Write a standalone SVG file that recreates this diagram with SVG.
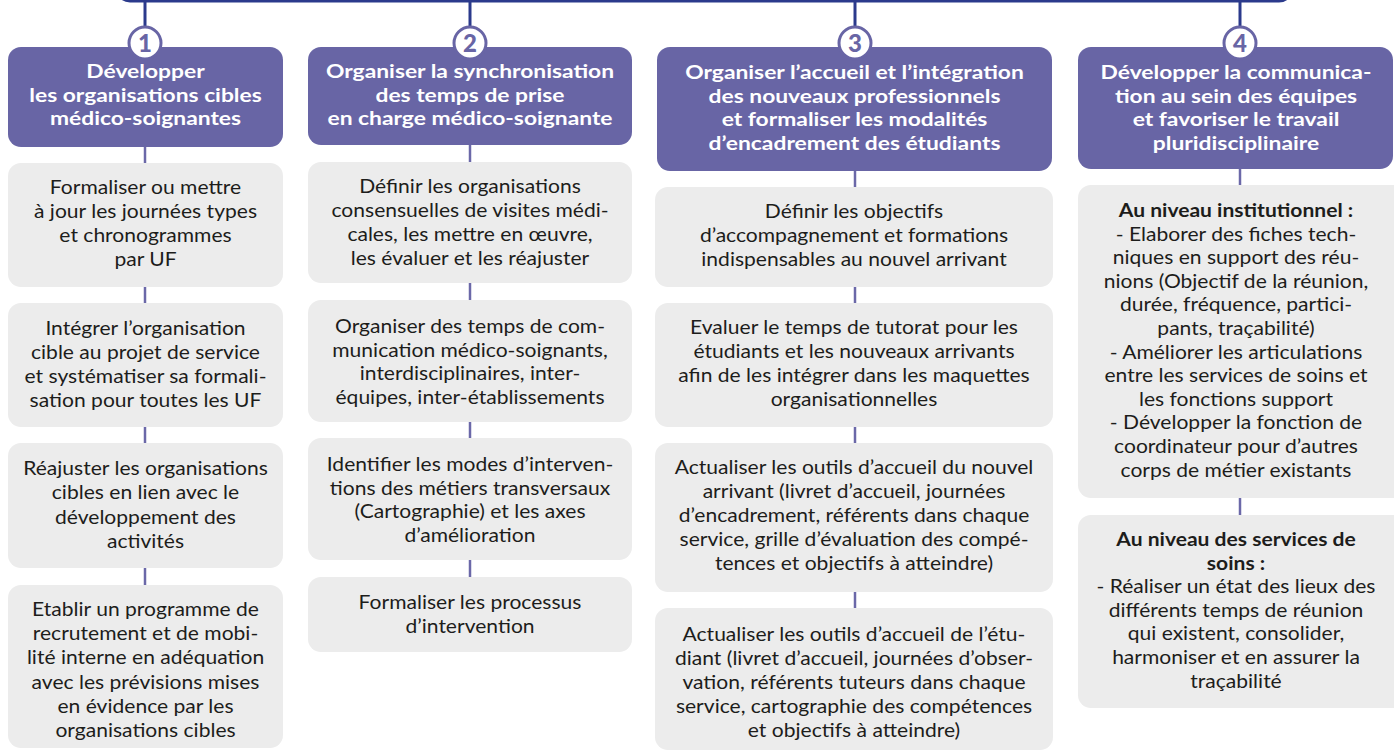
<svg xmlns="http://www.w3.org/2000/svg" width="1394" height="751" viewBox="0 0 1394 751">
<style>
.hdr{fill:#6865a5}
.box{fill:#ececec}
.ht{font-family:Lato,"Open Sans",sans-serif;font-weight:700;font-size:19.5px;fill:#ffffff;text-anchor:middle}
.bt{font-family:Lato,"Open Sans",sans-serif;font-size:19.5px;fill:#1d1d1b;text-anchor:middle}
.bb{font-weight:700}
.num{font-family:Lato,"Open Sans",sans-serif;font-weight:900;font-size:24px;fill:#6865a5;text-anchor:middle}
.circ{fill:#ffffff;stroke:#6865a5;stroke-width:3}
.trunk{stroke:#2b3a8c;stroke-width:3;fill:none}
.link{stroke:#6b68a8;stroke-width:2.5;fill:none}
</style>
<rect width="1394" height="751" fill="#ffffff"/>
<g id="connectors">
<path class="trunk" d="M117,-20 V-12 A13,13 0 0 0 130,1 H1279 A13,13 0 0 0 1292,-12 V-20"/>
<line class="trunk" x1="145" y1="1" x2="145" y2="28"/>
<line class="trunk" x1="470" y1="1" x2="470" y2="28"/>
<line class="trunk" x1="855" y1="1" x2="855" y2="28"/>
<line class="trunk" x1="1240" y1="1" x2="1240" y2="28"/>
<line class="link" x1="145" y1="147" x2="145" y2="163"/>
<line class="link" x1="145" y1="287" x2="145" y2="303"/>
<line class="link" x1="145" y1="427" x2="145" y2="443"/>
<line class="link" x1="145" y1="568" x2="145" y2="585"/>
<line class="link" x1="470" y1="145" x2="470" y2="162"/>
<line class="link" x1="470" y1="283" x2="470" y2="300"/>
<line class="link" x1="470" y1="422" x2="470" y2="438"/>
<line class="link" x1="470" y1="560" x2="470" y2="577"/>
<line class="link" x1="855" y1="171" x2="855" y2="187"/>
<line class="link" x1="855" y1="287" x2="855" y2="303"/>
<line class="link" x1="855" y1="427" x2="855" y2="443"/>
<line class="link" x1="855" y1="592" x2="855" y2="608"/>
<line class="link" x1="1240" y1="169" x2="1240" y2="185"/>
<line class="link" x1="1240" y1="498" x2="1240" y2="515"/>
</g>
<g id="h1">
<rect class="hdr" x="8" y="47" width="275" height="100" rx="13"/>
<g transform="translate(145.5 0) scale(1.17 1)"><text class="ht" y="78"><tspan x="0">Développer</tspan><tspan x="0" dy="23.6">les organisations cibles</tspan><tspan x="0" dy="23.6">médico-soignantes</tspan></text></g>
<circle class="circ" cx="145" cy="43" r="16"/>
<text class="num" x="145" y="51.5">1</text>
</g>
<g id="h2">
<rect class="hdr" x="308" y="47" width="324" height="98" rx="13"/>
<g transform="translate(470 0) scale(1.17 1)"><text class="ht" y="78"><tspan x="0">Organiser la synchronisation</tspan><tspan x="0" dy="23.6">des temps de prise</tspan><tspan x="0" dy="23.6">en charge médico-soignante</tspan></text></g>
<circle class="circ" cx="470" cy="43" r="16"/>
<text class="num" x="470" y="51.5">2</text>
</g>
<g id="h3">
<rect class="hdr" x="657" y="47" width="395" height="124" rx="13"/>
<g transform="translate(854.5 0) scale(1.17 1)"><text class="ht" y="79"><tspan x="0">Organiser l’accueil et l’intégration</tspan><tspan x="0" dy="23.6">des nouveaux professionnels</tspan><tspan x="0" dy="23.6">et formaliser les modalités</tspan><tspan x="0" dy="23.6">d’encadrement des étudiants</tspan></text></g>
<circle class="circ" cx="855" cy="43" r="16"/>
<text class="num" x="855" y="51.5">3</text>
</g>
<g id="h4">
<rect class="hdr" x="1078" y="47" width="315" height="122" rx="13"/>
<g transform="translate(1236 0) scale(1.17 1)"><text class="ht" y="79"><tspan x="0">Développer la communica-</tspan><tspan x="0" dy="23.6">tion au sein des équipes</tspan><tspan x="0" dy="23.6">et favoriser le travail</tspan><tspan x="0" dy="23.6">pluridisciplinaire</tspan></text></g>
<circle class="circ" cx="1240" cy="43" r="16"/>
<text class="num" x="1240" y="51.5">4</text>
</g>
<g id="c1b1">
<rect class="box" x="8" y="163" width="275" height="124" rx="13"/>
<g transform="translate(145.5 0) scale(1.08 1)"><text class="bt" y="194"><tspan x="0">Formaliser ou mettre</tspan><tspan x="0" dy="24">à jour les journées types</tspan><tspan x="0" dy="24">et chronogrammes</tspan><tspan x="0" dy="24">par UF</tspan></text></g>
</g>
<g id="c1b2">
<rect class="box" x="8" y="303" width="275" height="124" rx="13"/>
<g transform="translate(145.5 0) scale(1.08 1)"><text class="bt" y="335"><tspan x="0">Intégrer l’organisation</tspan><tspan x="0" dy="24">cible au projet de service</tspan><tspan x="0" dy="24">et systématiser sa formali-</tspan><tspan x="0" dy="24">sation pour toutes les UF</tspan></text></g>
</g>
<g id="c1b3">
<rect class="box" x="8" y="443" width="275" height="125" rx="13"/>
<g transform="translate(145.5 0) scale(1.08 1)"><text class="bt" y="475"><tspan x="0">Réajuster les organisations</tspan><tspan x="0" dy="24.3">cibles en lien avec le</tspan><tspan x="0" dy="24.3">développement des</tspan><tspan x="0" dy="24.3">activités</tspan></text></g>
</g>
<g id="c1b4">
<rect class="box" x="8" y="585" width="275" height="163" rx="13"/>
<g transform="translate(145.5 0) scale(1.08 1)"><text class="bt" y="616"><tspan x="0">Etablir un programme de</tspan><tspan x="0" dy="24.2">recrutement et de mobi-</tspan><tspan x="0" dy="24.2">lité interne en adéquation</tspan><tspan x="0" dy="24.2">avec les prévisions mises</tspan><tspan x="0" dy="24.2">en évidence par les</tspan><tspan x="0" dy="24.2">organisations cibles</tspan></text></g>
</g>
<g id="c2b1">
<rect class="box" x="308" y="162" width="324" height="121" rx="13"/>
<g transform="translate(470 0) scale(1.08 1)"><text class="bt" y="193"><tspan x="0">Définir les organisations</tspan><tspan x="0" dy="24">consensuelles de visites médi-</tspan><tspan x="0" dy="24">cales, les mettre en œuvre,</tspan><tspan x="0" dy="24">les évaluer et les réajuster</tspan></text></g>
</g>
<g id="c2b2">
<rect class="box" x="308" y="300" width="324" height="122" rx="13"/>
<g transform="translate(470 0) scale(1.08 1)"><text class="bt" y="333"><tspan x="0">Organiser des temps de com-</tspan><tspan x="0" dy="23.7">munication médico-soignants,</tspan><tspan x="0" dy="23.7">interdisciplinaires, inter-</tspan><tspan x="0" dy="23.7">équipes, inter-établissements</tspan></text></g>
</g>
<g id="c2b3">
<rect class="box" x="308" y="438" width="324" height="122" rx="13"/>
<g transform="translate(470 0) scale(1.08 1)"><text class="bt" y="471"><tspan x="0">Identifier les modes d’interven-</tspan><tspan x="0" dy="23.6">tions des métiers transversaux</tspan><tspan x="0" dy="23.6">(Cartographie) et les axes</tspan><tspan x="0" dy="23.6">d’amélioration</tspan></text></g>
</g>
<g id="c2b4">
<rect class="box" x="308" y="577" width="324" height="75" rx="13"/>
<g transform="translate(470 0) scale(1.08 1)"><text class="bt" y="609"><tspan x="0">Formaliser les processus</tspan><tspan x="0" dy="23.6">d’intervention</tspan></text></g>
</g>
<g id="c3b1">
<rect class="box" x="655" y="187" width="398" height="100" rx="13"/>
<g transform="translate(854 0) scale(1.08 1)"><text class="bt" y="218"><tspan x="0">Définir les objectifs</tspan><tspan x="0" dy="24">d’accompagnement et formations</tspan><tspan x="0" dy="24">indispensables au nouvel arrivant</tspan></text></g>
</g>
<g id="c3b2">
<rect class="box" x="655" y="303" width="398" height="124" rx="13"/>
<g transform="translate(854 0) scale(1.08 1)"><text class="bt" y="334"><tspan x="0">Evaluer le temps de tutorat pour les</tspan><tspan x="0" dy="24">étudiants et les nouveaux arrivants</tspan><tspan x="0" dy="24">afin de les intégrer dans les maquettes</tspan><tspan x="0" dy="24">organisationnelles</tspan></text></g>
</g>
<g id="c3b3">
<rect class="box" x="655" y="443" width="398" height="149" rx="13"/>
<g transform="translate(854 0) scale(1.08 1)"><text class="bt" y="474"><tspan x="0">Actualiser les outils d’accueil du nouvel</tspan><tspan x="0" dy="24">arrivant (livret d’accueil, journées</tspan><tspan x="0" dy="24">d’encadrement, référents dans chaque</tspan><tspan x="0" dy="24">service, grille d’évaluation des compé-</tspan><tspan x="0" dy="24">tences et objectifs à atteindre)</tspan></text></g>
</g>
<g id="c3b4">
<rect class="box" x="655" y="608" width="398" height="142" rx="13"/>
<g transform="translate(854 0) scale(1.08 1)"><text class="bt" y="641"><tspan x="0">Actualiser les outils d’accueil de l’étu-</tspan><tspan x="0" dy="24">diant (livret d’accueil, journées d’obser-</tspan><tspan x="0" dy="24">vation, référents tuteurs dans chaque</tspan><tspan x="0" dy="24">service, cartographie des compétences</tspan><tspan x="0" dy="24">et objectifs à atteindre)</tspan></text></g>
</g>
<g id="c4b1">
<rect class="box" x="1078" y="185" width="330" height="313" rx="13"/>
<g transform="translate(1236 0) scale(1.08 1)"><text class="bt" y="217"><tspan x="0" class="bb">Au niveau institutionnel :</tspan><tspan x="0" dy="23.6">- Elaborer des fiches tech-</tspan><tspan x="0" dy="23.6">niques en support des réu-</tspan><tspan x="0" dy="23.6">nions (Objectif de la réunion,</tspan><tspan x="0" dy="23.6">durée, fréquence, partici-</tspan><tspan x="0" dy="23.6">pants, traçabilité)</tspan><tspan x="0" dy="23.6">- Améliorer les articulations</tspan><tspan x="0" dy="23.6">entre les services de soins et</tspan><tspan x="0" dy="23.6">les fonctions support</tspan><tspan x="0" dy="23.6">- Développer la fonction de</tspan><tspan x="0" dy="23.6">coordinateur pour d’autres</tspan><tspan x="0" dy="23.6">corps de métier existants</tspan></text></g>
</g>
<g id="c4b2">
<rect class="box" x="1078" y="515" width="330" height="193" rx="13"/>
<g transform="translate(1236 0) scale(1.08 1)"><text class="bt" y="546"><tspan x="0" class="bb">Au niveau des services de</tspan><tspan x="0" dy="23.6" class="bb">soins :</tspan><tspan x="0" dy="23.6">- Réaliser un état des lieux des</tspan><tspan x="0" dy="23.6">différents temps de réunion</tspan><tspan x="0" dy="23.6">qui existent, consolider,</tspan><tspan x="0" dy="23.6">harmoniser et en assurer la</tspan><tspan x="0" dy="23.6">traçabilité</tspan></text></g>
</g>
</svg>
